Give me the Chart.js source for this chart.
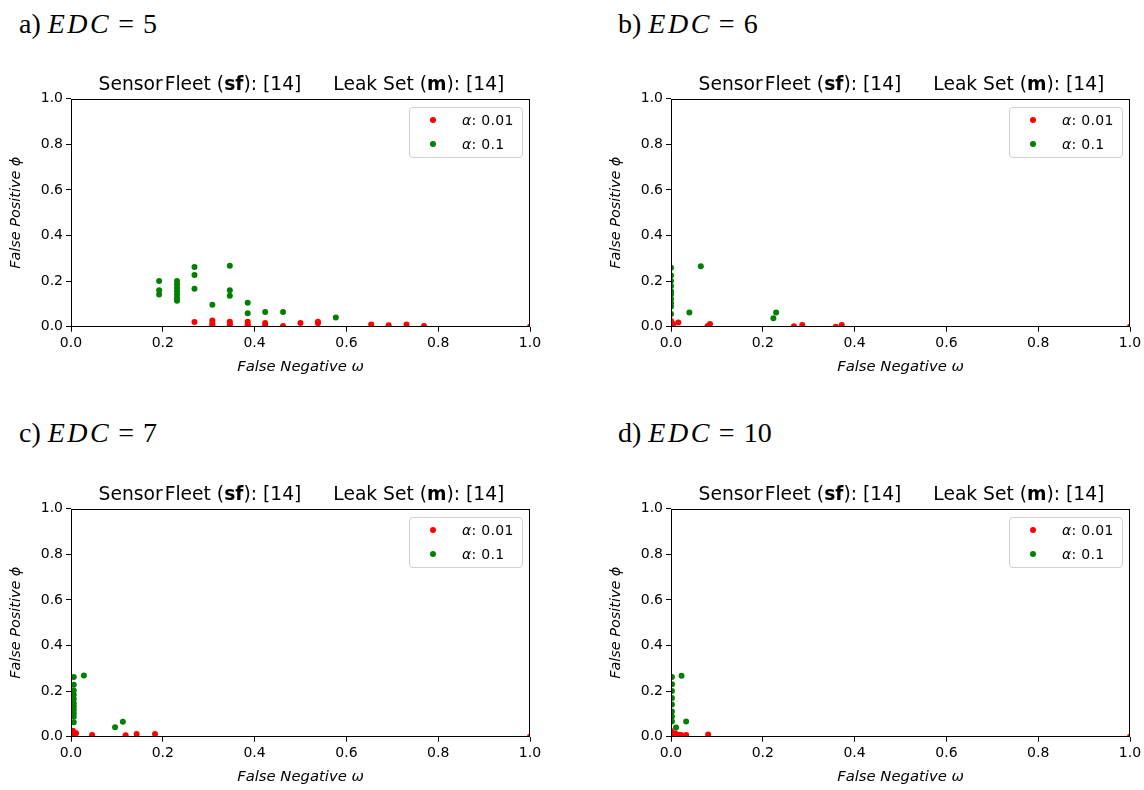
<!DOCTYPE html>
<html><head><meta charset="utf-8">
<script src="https://cdn.jsdelivr.net/npm/chart.js@4.4.1/dist/chart.umd.min.js"></script>
<style>
body{margin:0;background:#fff;width:1144px;height:790px;position:relative;overflow:hidden;font-family:"DejaVu Sans",sans-serif;color:#000;}
.panel{position:absolute;width:560px;height:320px;}
.panel canvas{position:absolute;left:0;top:0;}
.head{position:absolute;font-family:"Liberation Serif",serif;font-size:28px;line-height:28px;white-space:nowrap;}
.head i{letter-spacing:2.5px;}
.head .eq{margin:0 9px 0 7px;}
.ttl{position:absolute;left:71px;width:461px;text-align:center;top:14px;font-size:18.7px;line-height:19px;white-space:nowrap;}
.ttl .gap{display:inline-block;width:32px;}
.ttl .thin{display:inline-block;width:2px;}
.leg{position:absolute;left:409px;top:47px;width:112px;height:49px;border:1px solid #d0d0d0;border-radius:4px;background:rgba(255,255,255,0.8);font-size:14px;}
.leg .dot{position:absolute;left:20px;width:6px;height:6px;border-radius:50%;}
.leg .lt{position:absolute;left:52px;line-height:16px;white-space:nowrap;letter-spacing:0.3px;}
</style>
</head><body>

<script>
// ---- data ----
const tickValues = [0, 0.2, 0.4, 0.6, 0.8, 1.0];
const tickLabels = ['0.0', '0.2', '0.4', '0.6', '0.8', '1.0'];
const seriesNames = ['0.01', '0.1'];
const seriesColors = ['#ff0000', '#008000'];
const panelLetters = ['a', 'b', 'c', 'd'];
const edcValues = [5, 6, 7, 10];
const sensorFleet = '[14]';
const leakSet = '[14]';

// a) EDC = 5
const aRedX = [0.269, 0.308, 0.308, 0.308, 0.346, 0.346, 0.346, 0.385, 0.385, 0.385, 0.423, 0.423, 0.462, 0.5, 0.538, 0.538, 0.654, 0.692, 0.731, 0.769, 1.0];
const aRedY = [0.021, 0.027, 0.015, 0.006, 0.022, 0.012, 0.004, 0.022, 0.01, 0.003, 0.016, 0.006, 0.003, 0.016, 0.022, 0.015, 0.01, 0.006, 0.01, 0.003, 0.0];
const aGreenX = [0.192, 0.192, 0.192, 0.231, 0.231, 0.231, 0.231, 0.231, 0.231, 0.231, 0.269, 0.269, 0.269, 0.308, 0.346, 0.346, 0.346, 0.385, 0.385, 0.423, 0.462, 0.577];
const aGreenY = [0.2, 0.16, 0.141, 0.2, 0.185, 0.17, 0.156, 0.141, 0.126, 0.114, 0.262, 0.227, 0.166, 0.096, 0.267, 0.16, 0.136, 0.105, 0.059, 0.065, 0.065, 0.04];

// b) EDC = 6
const bRedX = [0.0, 0.0, 0.0, 0.005, 0.016, 0.08, 0.085, 0.268, 0.286, 0.359, 0.372, 1.0];
const bRedY = [0.025, 0.012, 0.0, 0.012, 0.018, 0.003, 0.012, 0.002, 0.007, 0.0, 0.007, 0.0];
const bGreenX = [0.0, 0.0, 0.0, 0.0, 0.0, 0.0, 0.0, 0.0, 0.0, 0.0, 0.065, 0.04, 0.223, 0.229];
const bGreenY = [0.259, 0.225, 0.2, 0.178, 0.156, 0.141, 0.121, 0.104, 0.089, 0.056, 0.265, 0.062, 0.037, 0.062];

// c) EDC = 7
const cRedX = [0.004, 0.007, 0.011, 0.004, 0.046, 0.119, 0.143, 0.183, 1.0];
const cRedY = [0.026, 0.018, 0.015, 0.006, 0.007, 0.006, 0.012, 0.012, 0.0];
const cGreenX = [0.006, 0.006, 0.006, 0.006, 0.006, 0.006, 0.006, 0.006, 0.006, 0.006, 0.006, 0.028, 0.096, 0.113];
const cGreenY = [0.262, 0.228, 0.203, 0.184, 0.165, 0.147, 0.132, 0.118, 0.103, 0.088, 0.063, 0.268, 0.041, 0.066];

// d) EDC = 10
const dRedX = [0.0, 0.0, 0.0, 0.009, 0.017, 0.022, 0.033, 0.081, 1.0];
const dRedY = [0.025, 0.015, 0.004, 0.015, 0.009, 0.007, 0.007, 0.01, 0.0];
const dGreenX = [0.002, 0.002, 0.002, 0.002, 0.002, 0.002, 0.002, 0.002, 0.023, 0.011, 0.033];
const dGreenY = [0.262, 0.23, 0.2, 0.17, 0.141, 0.111, 0.089, 0.067, 0.267, 0.04, 0.067];

const panelData = [
  [[aRedX, aRedY], [aGreenX, aGreenY]],
  [[bRedX, bRedY], [bGreenX, bGreenY]],
  [[cRedX, cRedY], [cGreenX, cGreenY]],
  [[dRedX, dRedY], [dGreenX, dGreenY]]
];

// ---- layout ----
const panelPos = [[0, 60], [600, 60], [0, 470], [600, 470]];
const headPos = [[19, 10], [618, 10], [19, 419], [618, 419]];

const framePlugin = {
  id: 'frame',
  afterDatasetsDraw(chart) {
    const {ctx, chartArea: a} = chart;
    ctx.save();
    ctx.strokeStyle = '#000';
    ctx.lineWidth = 1;
    const l = Math.round(a.left) + 0.5, t = Math.round(a.top) + 0.5;
    const r = Math.round(a.right) - 0.5, b = Math.round(a.bottom) - 0.5;
    ctx.strokeRect(l, t, r - l, b - t);
    ctx.restore();
  }
};

function tickCb(v) {
  const i = tickValues.findIndex(t => Math.abs(t - v) < 1e-9);
  return i >= 0 ? tickLabels[i] : '';
}

function axis(isX) {
  return {
    type: 'linear',
    min: 0, max: 1,
    afterBuildTicks(scale) { scale.ticks = tickValues.map(v => ({value: v})); },
    afterFit(scale) { if (isX) scale.height = 49.7; else scale.width = 71; },
    border: {display: false},
    grid: {drawOnChartArea: false, drawTicks: true, tickLength: 5, color: '#000', lineWidth: 1},
    ticks: {callback: tickCb, color: '#000', padding: 3, maxRotation: 0, autoSkip: false,
            font: {family: 'DejaVu Sans', size: 14}},
    title: {display: true, text: isX ? 'False Negative ω' : 'False Positive ϕ', color: '#000',
            font: {family: 'DejaVu Sans', size: isX ? 14.8 : 14.4, style: 'italic'},
            padding: isX ? {top: 0, bottom: 0} : {top: 7.4, bottom: 0}}
  };
}

panelData.forEach((series, p) => {
  const head = document.createElement('div');
  head.className = 'head';
  head.style.left = headPos[p][0] + 'px';
  head.style.top = headPos[p][1] + 'px';
  head.innerHTML = panelLetters[p] + ') <i>EDC</i><span class="eq">=</span>' + edcValues[p];
  document.body.appendChild(head);

  const wrap = document.createElement('div');
  wrap.className = 'panel';
  wrap.style.left = panelPos[p][0] + 'px';
  wrap.style.top = panelPos[p][1] + 'px';
  document.body.appendChild(wrap);

  const cv = document.createElement('canvas');
  cv.width = 560; cv.height = 320;
  wrap.appendChild(cv);

  const ttl = document.createElement('div');
  ttl.className = 'ttl';
  ttl.innerHTML = 'Sensor<span class="thin"></span>Fleet (<b>sf</b>): ' + sensorFleet +
    '<span class="gap"></span>Leak Set (<b>m</b>): ' + leakSet;
  wrap.appendChild(ttl);

  const leg = document.createElement('div');
  leg.className = 'leg';
  seriesNames.forEach((n, i) => {
    const cy = 12 + i * 24;
    leg.innerHTML += '<span class="dot" style="top:' + (cy - 3) + 'px;background:' + seriesColors[i] + '"></span>' +
      '<span class="lt" style="top:' + (cy - 8) + 'px"><i>α</i>: ' + n + '</span>';
  });
  wrap.appendChild(leg);

  const datasets = series.map(([xs, ys], i) => ({
    label: 'α: ' + seriesNames[i],
    data: xs.map((x, k) => ({x: x, y: ys[k]})),
    backgroundColor: seriesColors[i],
    borderColor: seriesColors[i],
    borderWidth: 0,
    pointRadius: 3,
    pointHoverRadius: 3,
    clip: 0
  }));

  new Chart(cv, {
    type: 'scatter',
    data: {datasets},
    options: {
      responsive: false,
      animation: false,
      devicePixelRatio: 1,
      layout: {padding: {left: 0, top: 38.7, right: 30, bottom: 3.6}},
      plugins: {legend: {display: false}, title: {display: false}, tooltip: {enabled: false}},
      scales: {x: axis(true), y: axis(false)}
    },
    plugins: [framePlugin]
  });
});
</script>
</body></html>
